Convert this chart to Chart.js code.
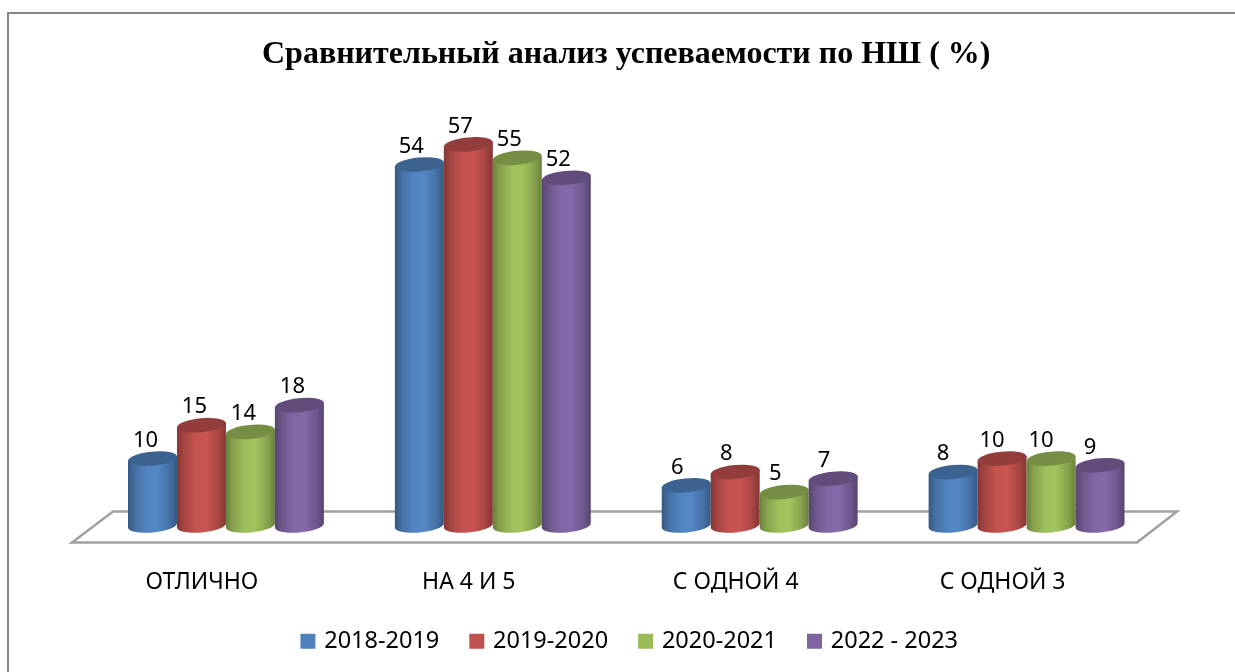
<!DOCTYPE html>
<html lang="ru">
<head>
<meta charset="utf-8">
<title>Сравнительный анализ успеваемости по НШ ( %)</title>
<style>
html,body{margin:0;padding:0;background:#fff;overflow:hidden}
#wrap{position:relative;width:1235px;height:672px}
</style>
<script src="https://cdn.jsdelivr.net/npm/chart.js@4"></script>
</head>
<body>
<div id="wrap"><canvas id="c" width="1235" height="672"></canvas></div>
<script>
const titleText = 'Сравнительный анализ успеваемости по НШ ( %)';
const categories = ['ОТЛИЧНО', 'НА 4 И 5', 'С ОДНОЙ 4', 'С ОДНОЙ 3'];
const seriesNames = ['2018-2019', '2019-2020', '2020-2021', '2022 - 2023'];
const series2018 = [10, 54, 6, 8];
const series2019 = [15, 57, 8, 10];
const series2020 = [14, 55, 5, 10];
const series2022 = [18, 52, 7, 9];
const colors = ['#4F81BD', '#C0504D', '#9BBB59', '#8064A2'];

const TEXT_FONT = '"Noto Sans", "Open Sans", sans-serif';

function shade(hex, k) {
  const n = parseInt(hex.slice(1), 16);
  const f = v => Math.max(0, Math.min(255, Math.round(v * k)));
  return `rgb(${f((n >> 16) & 255)},${f((n >> 8) & 255)},${f(n & 255)})`;
}

// Each bar element keeps its library-computed x, y, base and width; only its look changes.
Chart.BarElement.prototype.draw = function (ctx) {
  const {x, y, base, width} = this;
  const c = this.options.backgroundColor;
  const half = width / 2, rot = -5.5 * Math.PI / 180;
  const rx = half / Math.cos(rot), ry = 7, dy = half * Math.tan(-rot);
  ctx.save();
  const g = ctx.createLinearGradient(x - half, 0, x + half, 0);
  g.addColorStop(0, shade(c, 0.68));
  g.addColorStop(0.14, shade(c, 0.86));
  g.addColorStop(0.38, shade(c, 1.02));
  g.addColorStop(0.6, shade(c, 1.05));
  g.addColorStop(0.86, shade(c, 0.86));
  g.addColorStop(1, shade(c, 0.68));
  ctx.fillStyle = g;
  ctx.beginPath();
  ctx.moveTo(x - half, y + dy);
  ctx.lineTo(x - half, base + dy);
  ctx.ellipse(x, base, rx, ry, rot, Math.PI, 0, true);
  ctx.lineTo(x + half, y - dy);
  ctx.closePath();
  ctx.fill();
  ctx.fillStyle = shade(c, 0.76);
  ctx.beginPath();
  ctx.ellipse(x, y, rx, ry, rot, 0, Math.PI * 2);
  ctx.fill();
  ctx.restore();
};

const scene = {
  id: 'scene',
  afterLayout(chart) {
    chart.legend.left += 4.5;
    chart.legend.right += 4.5;
  },
  beforeDraw(chart) {
    const ctx = chart.ctx;
    ctx.save();
    ctx.strokeStyle = '#868686';
    ctx.lineWidth = 2;
    ctx.beginPath();
    ctx.moveTo(8, chart.height);
    ctx.lineTo(8, 13);
    ctx.lineTo(chart.width, 13);
    ctx.stroke();
    ctx.restore();
  },
  beforeDatasetsDraw(chart) {
    const ctx = chart.ctx, a = chart.chartArea, y0 = chart.scales.y.getPixelForValue(0);
    ctx.save();
    ctx.strokeStyle = '#a0a0a0';
    ctx.lineWidth = 2.5;
    ctx.beginPath();
    ctx.moveTo(a.left - 20.5, y0 + 17);
    ctx.lineTo(a.left + 20.5, y0 - 14);
    ctx.lineTo(a.right + 17, y0 - 14);
    ctx.lineTo(a.right - 23, y0 + 17);
    ctx.closePath();
    ctx.stroke();
    ctx.restore();
    // later series sit in front of earlier ones
    chart.data.datasets.forEach((d, i) => chart.getDatasetMeta(i).controller.draw());
    return false;
  },
  afterDraw(chart) {
    const ctx = chart.ctx;
    ctx.save();
    ctx.fillStyle = '#000';
    ctx.font = '22px ' + TEXT_FONT;
    ctx.textAlign = 'center';
    ctx.textBaseline = 'middle';
    chart.data.datasets.forEach((d, i) => {
      chart.getDatasetMeta(i).data.forEach((el, j) => {
        ctx.fillText(String(d.data[j]), el.x - 7 - j, el.y - 18);
      });
    });
    ctx.restore();
  }
};

const dataSeries = [series2018, series2019, series2020, series2022];

new Chart(document.getElementById('c'), {
  type: 'bar',
  data: {
    labels: categories,
    datasets: seriesNames.map((name, i) => ({
      label: name,
      data: dataSeries[i],
      backgroundColor: colors[i]
    }))
  },
  options: {
    responsive: false,
    animation: false,
    layout: {padding: {left: 92.5, right: 75, top: 0, bottom: 9}},
    datasets: {bar: {categoryPercentage: 0.734, barPercentage: 1}},
    scales: {
      x: {
        grid: {display: false, drawTicks: false},
        border: {display: false},
        afterFit(scale) { scale.height = 71; },
        ticks: {color: '#000', font: {family: TEXT_FONT, size: 23}, padding: 43, maxRotation: 0, labelOffset: -24}
      },
      y: {display: false, min: 0, max: 60}
    },
    plugins: {
      title: {
        display: true,
        text: titleText,
        color: '#000',
        font: {family: '"Liberation Serif", serif', size: 32, weight: 'bold'},
        padding: {top: 36, bottom: 50}
      },
      legend: {
        position: 'bottom',
        labels: {
          color: '#000',
          font: {family: TEXT_FONT, size: 23.5},
          boxWidth: 9,
          boxHeight: 9,
          padding: 33,
          generateLabels: chart => chart.data.datasets.map((d, i) => ({
            text: d.label,
            fillStyle: colors[i],
            strokeStyle: colors[i],
            lineWidth: 6,
            datasetIndex: i
          }))
        }
      },
      tooltip: {enabled: false}
    }
  },
  plugins: [scene]
});
</script>
</body>
</html>
